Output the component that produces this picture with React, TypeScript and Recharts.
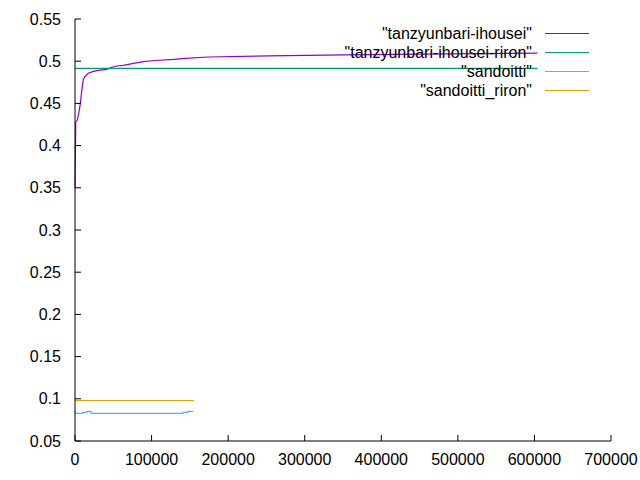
import React from 'react';
import { LineChart, Line, XAxis, YAxis } from 'recharts';

// tick labels
const xTicks = [0, 100000, 200000, 300000, 400000, 500000, 600000, 700000];
const yTicks = [0.05, 0.1, 0.15, 0.2, 0.25, 0.3, 0.35, 0.4, 0.45, 0.5, 0.55];

// "tanzyunbari-ihousei"
const ihouseiX = [0, 1000, 3000, 5200, 7000, 8700, 10800, 13000, 17400, 23000, 30400, 41400, 48000, 54500, 63200, 76300, 89300, 104500, 129000, 144000, 174000, 253000, 352000, 450000, 604000];
const ihouseiY = [0.35, 0.428, 0.43, 0.44, 0.45, 0.464, 0.478, 0.4816, 0.4857, 0.4876, 0.4892, 0.4904, 0.4928, 0.4943, 0.4951, 0.4975, 0.4994, 0.5008, 0.5022, 0.5034, 0.505, 0.5062, 0.5075, 0.5085, 0.5095];

// "tanzyunbari-ihousei-riron"
const ihouseiRironX = [0, 604000];
const ihouseiRironY = [0.4916, 0.4916];

// "sandoitti"
const sandoittiX = [0, 1300, 10400, 10400, 15700, 15700, 20900, 20900, 141000, 141000, 147600, 147600, 154100];
const sandoittiY = [0.085, 0.0828, 0.0828, 0.084, 0.084, 0.0852, 0.0852, 0.0828, 0.0828, 0.084, 0.084, 0.0852, 0.0852];

// "sandoitti_riron"
const sandoittiRironX = [0, 155400];
const sandoittiRironY = [0.098, 0.098];

const toPoints = (xs: number[], ys: number[]) => xs.map((x, i) => ({ x, y: ys[i] }));

// riron line sits on the top/right axes (same domains) so those get ticks too
const series = [
  { name: '"tanzyunbari-ihousei"', color: '#9400D3', data: toPoints(ihouseiX, ihouseiY), xId: 0, yId: 0 },
  { name: '"tanzyunbari-ihousei-riron"', color: '#009E73', data: toPoints(ihouseiRironX, ihouseiRironY), xId: 'top', yId: 'right' },
  { name: '"sandoitti"', color: '#56B4E9', data: toPoints(sandoittiX, sandoittiY), xId: 0, yId: 0 },
  { name: '"sandoitti_riron"', color: '#E69F00', data: toPoints(sandoittiRironX, sandoittiRironY), xId: 0, yId: 0 },
];

const FONT = '"Liberation Sans", Arial, sans-serif';
const tickStyle = { fontSize: 16, fill: '#000', fontFamily: FONT };
const hiddenTick = { fontSize: 16, fill: 'none', fontFamily: FONT };
const black = { stroke: '#000', strokeWidth: 1 };
const X_DOMAIN: [number, number] = [0, 700000];
const Y_DOMAIN: [number, number] = [0.05, 0.55];
const TICK = -6; // negative = ticks point into the plot, like gnuplot

const fmtY = (v: number) => String(Math.round(v * 100) / 100);

export default function App() {
  return (
    <div style={{ position: 'absolute', left: 0, top: 0, width: 640, height: 480, background: '#fff' }}>
      <LineChart width={640} height={480} margin={{ top: 19, right: 29, left: 0, bottom: 0 }}>
        <XAxis
          dataKey="x" type="number" domain={X_DOMAIN} ticks={xTicks}
          height={39} tickSize={TICK} tickMargin={19}
          tick={tickStyle} axisLine={black} tickLine={black}
          allowDuplicatedCategory={false}
        />
        <YAxis
          type="number" domain={Y_DOMAIN} ticks={yTicks}
          width={75} tickSize={TICK} tickMargin={20}
          tick={tickStyle} axisLine={black} tickLine={black}
          tickFormatter={fmtY}
        />
        <XAxis
          xAxisId="top" dataKey="x" type="number" domain={X_DOMAIN} ticks={xTicks}
          orientation="top" height={0} tickSize={TICK}
          tick={hiddenTick} axisLine={black} tickLine={black}
          allowDuplicatedCategory={false}
        />
        <YAxis
          yAxisId="right" type="number" domain={Y_DOMAIN} ticks={yTicks}
          orientation="right" width={0} tickSize={TICK}
          tick={hiddenTick} axisLine={black} tickLine={black}
        />
        {series.map((s) => (
          <Line
            key={s.name}
            data={s.data}
            dataKey="y"
            name={s.name}
            xAxisId={s.xId}
            yAxisId={s.yId}
            type="linear"
            stroke={s.color}
            strokeWidth={1.2}
            dot={false}
            activeDot={false}
            isAnimationActive={false}
          />
        ))}
      </LineChart>
      <div style={{ position: 'absolute', left: 0, top: 24, width: 589, fontFamily: FONT, fontSize: 16, color: '#000' }}>
        {series.map((s) => (
          <div key={s.name} style={{ display: 'flex', justifyContent: 'flex-end', alignItems: 'center', height: 19, lineHeight: '19px' }}>
            <span style={{ marginRight: 13, whiteSpace: 'nowrap' }}>{s.name}</span>
            <div style={{ width: 44, height: 0, borderTop: `1px solid ${s.color}` }} />
          </div>
        ))}
      </div>
    </div>
  );
}
